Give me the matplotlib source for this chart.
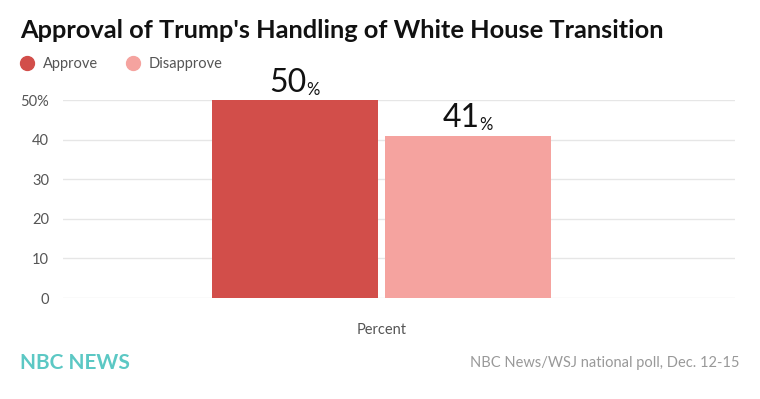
import matplotlib.pyplot as plt
from matplotlib.lines import Line2D

series = ["Approve", "Disapprove"]
values = [50, 41]
colors = ["#d24e4a", "#f5a39f"]
category = "Percent"
yticks = [0, 10, 20, 30, 40, 50]
ytick_labels = ["0", "10", "20", "30", "40", "50%"]

plt.rcParams['font.family'] = ['Lato', 'DejaVu Sans']

fig = plt.figure(figsize=(7.6, 3.99), dpi=100)
ax = fig.add_axes([63 / 760, 101 / 399, 672 / 760, 198 / 399])

offsets = [-0.524, 0.521]
for off, v, c in zip(offsets, values, colors):
    ax.bar(off, v, width=1.0, color=c, zorder=2)
    ax.text(off + 0.07, v + 0.6, f"{v}", ha="right", va="bottom", fontsize=23,
            color="#111111", zorder=3)
    ax.text(off + 0.065, v + 0.6, "%", ha="left", va="bottom", fontsize=12,
            color="#111111", zorder=3)

ax.set_xlim(-1.922, 2.127)
ax.set_ylim(0, 50)
ax.set_yticks(yticks)
ax.set_yticklabels(ytick_labels, color="#555555", fontsize=10.5)
ax.set_xticks([0])
ax.set_xticklabels([category], color="#555555", fontsize=10.5)
ax.tick_params(axis="both", length=0, pad=10)
ax.tick_params(axis="x", pad=18)
ax.grid(axis="y", color="#e6e6e6", lw=1, zorder=0)
for s in ax.spines.values():
    s.set_visible(False)

fig.text(20 / 760, 1 - 30 / 399, "Approval of Trump's Handling of White House Transition",
         fontsize=18.3, fontweight="bold", color="#111111", va="center", ha="left")

handles = [Line2D([], [], marker="o", ls="", ms=10, color=c) for c in colors]
fig.legend(handles, series, loc="center left", bbox_to_anchor=(12 / 760, 1 - 64 / 399),
           ncol=2, frameon=False, fontsize=10.5, handletextpad=0.1, columnspacing=1.4,
           labelcolor="#555555", borderaxespad=0, borderpad=0)

fig.text(20 / 760, 1 - 363 / 399, "NBC NEWS", fontsize=15, fontweight="bold",
         color="#5cc8c4", va="center", ha="left")
fig.text(740 / 760, 1 - 363 / 399, "NBC News/WSJ national poll, Dec. 12-15",
         fontsize=10.5, color="#999999", va="center", ha="right")

fig.savefig("out.png", dpi=100)
